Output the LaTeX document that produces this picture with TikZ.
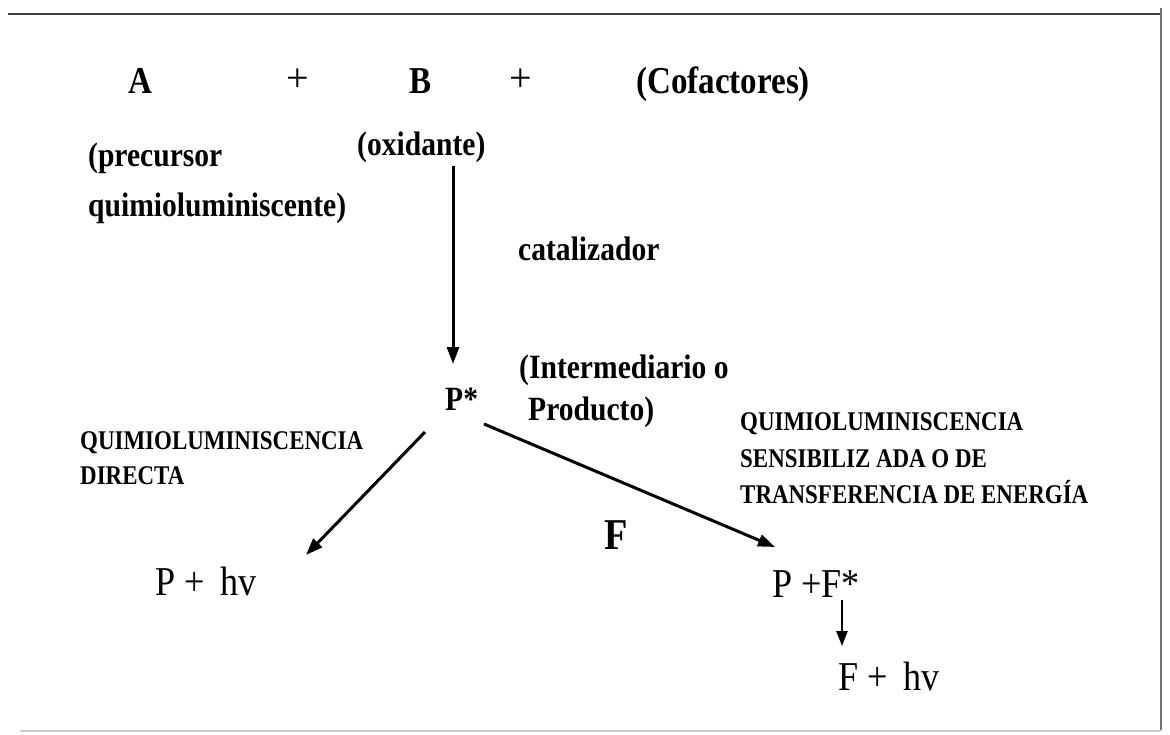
\documentclass[tikz,border=0pt]{standalone}
\usepackage{fontspec}
\setmainfont{Liberation Serif}
\newfontfamily\capsfont[FakeStretch=0.85, UprightFont=* Bold]{Liberation Serif}
\newfontfamily\condreg[FakeStretch=0.88]{Liberation Serif}
\newfontfamily\condbold[FakeStretch=0.87, UprightFont=* Bold]{Liberation Serif}
\usetikzlibrary{arrows.meta}
\tikzset{
  lbl/.style={anchor=base west, inner sep=0pt, text=black},
  head/.style={lbl, font=\fontsize{38}{44}\selectfont\condbold},
  body/.style={lbl, font=\fontsize{34}{40}\selectfont\condbold},
  caps/.style={lbl, font=\fontsize{27}{30}\selectfont\capsfont},
  formula/.style={lbl, font=\fontsize{41}{46}\selectfont\condreg},
  plus/.style={anchor=center, inner sep=0pt, font=\fontsize{40}{44}\selectfont},
  rxn/.style={line width=3pt, -{Triangle[length=17pt,width=12pt]}},
  frame/.style={line width=2.5pt, draw=black!75},
}
\begin{document}
\begin{tikzpicture}[x=1pt,y=-1pt]
\useasboundingbox[fill=white] (0,0) rectangle (1170,734);
% frame
\draw[frame] (8,14) -- (1161,14);
\draw[line width=1.2pt, draw=black!55] (1161,8) -- (1161,730);
\draw[line width=1.2pt, draw=black!20] (20,731) -- (1161,731);
% top row
\node[head] (A) at (128,93) {A};
\node[plus] (p1) at (298,80) {+};
\node[head] (B) at (409,93) {B};
\node[plus] (p2) at (521,80) {+};
\node[head] (cof) at (636,93) {(Cofactores)};
% labels
\node[body] (prec1) at (88,166) {(precursor};
\node[body] (prec2) at (88,216) {quimioluminiscente)};
\node[body] (oxid) at (357,155) {(oxidante)};
\node[body] (cat) at (518,260) {catalizador};
\node[body] (int1) at (519,378) {(Intermediario o};
\node[body] (int2) at (528,420) {Producto)};
\node[lbl, font=\fontsize{34}{38}\selectfont\condbold] (Pstar) at (445,410) {P*};
% left branch
\node[caps] (dir1) at (80,449) {QUIMIOLUMINISCENCIA};
\node[caps] (dir2) at (80,484) {DIRECTA};
\node[formula] (Phv) at (155,595) {P + \,hv};
% right branch
\node[caps] (sen1) at (740,430) {QUIMIOLUMINISCENCIA};
\node[caps] (sen2) at (740,467) {SENSIBILIZ ADA O DE};
\node[caps] (sen3) at (740,503) {TRANSFERENCIA DE ENERGÍA};
\node[lbl, font=\fontsize{44}{48}\selectfont\condbold] (F) at (604,549) {F};
\node[formula] (PF) at (772,597) {P +F*};
\node[formula] (Fhv) at (838,690) {F + \,hv};
% connector end points
\coordinate (v1) at (453,166);
\coordinate (v2) at (453,364);
\coordinate (l1) at (425,432);
\coordinate (l2) at (306,555);
\coordinate (r1) at (484,424);
\coordinate (r2) at (775,547);
\coordinate (s1) at (842,600);
\coordinate (s2) at (842,646);
\draw[rxn] (v1) -- (v2);
\draw[rxn] (l1) -- (l2);
\draw[rxn] (r1) -- (r2);
\draw[line width=2.5pt, -{Triangle[length=15pt,width=11pt]}] (s1) -- (s2);
\end{tikzpicture}
\end{document}
